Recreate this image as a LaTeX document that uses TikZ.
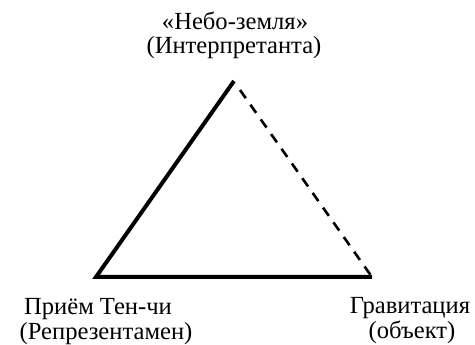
\documentclass[tikz,border=0pt]{standalone}
\usepackage{fontspec}
\setmainfont{Liberation Serif}
\begin{document}
\begin{tikzpicture}[x=1pt,y=-1pt,
  lbl/.style={font=\fontsize{24.6}{26}\selectfont, anchor=base, inner sep=0pt},
  solidedge/.style={line width=4pt, line join=miter},
  dashededge/.style={line width=2.6pt, dash pattern=on 10pt off 8pt}]
\useasboundingbox (0,0) rectangle (475,345);
\coordinate (top) at (234,81);
\coordinate (bl) at (96,277);
\coordinate (br) at (372,277);
\draw[solidedge] (top) -- (bl) -- (br);
\draw[dashededge] (240,90) -- (br);
\node[lbl] (t1) at (235,30) {«Небо-земля»};
\node[lbl] (t2) at (234,54) {(Интерпретанта)};
\node[lbl] (l1) at (98,314) {Приём Тен-чи};
\node[lbl] (l2) at (106,339) {(Репрезентамен)};
\node[lbl] (r1) at (410,313) {Гравитация};
\node[lbl] (r2) at (412,338) {(объект)};
\end{tikzpicture}
\end{document}
